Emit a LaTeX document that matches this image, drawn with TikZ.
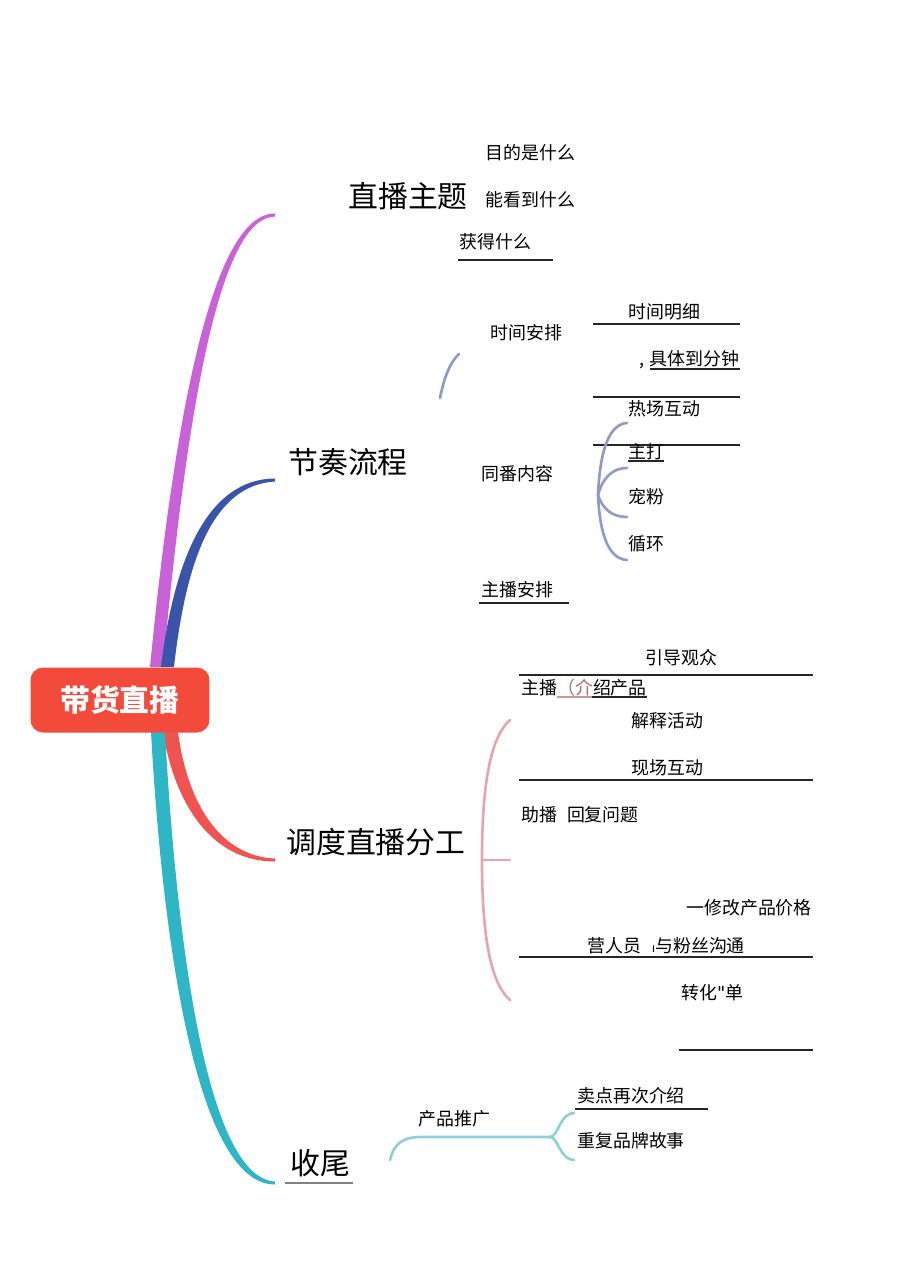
\documentclass[tikz,border=0pt]{standalone}
\usepackage{fontspec}
\setmainfont{Noto Sans CJK SC}
\newfontfamily\markfont{DejaVu Sans}
\definecolor{rootred}{HTML}{F24B3B}
\definecolor{bpurple}{HTML}{C862D6}
\definecolor{bblue}{HTML}{3A54A8}
\definecolor{bred}{HTML}{F05450}
\definecolor{bteal}{HTML}{2FB6C6}
\definecolor{sblue}{HTML}{8D9BCB}
\definecolor{spink}{HTML}{EAA4AC}
\definecolor{steal}{HTML}{8DD0DA}
\definecolor{jiered}{HTML}{B06A6A}
\tikzset{
  leaf/.style={anchor=west, inner sep=0pt, font=\fontsize{10.2pt}{12pt}\selectfont},
  topic/.style={anchor=west, inner sep=0pt, font=\fontsize{17pt}{20pt}\selectfont},
  rule/.style={line width=0.6pt, black!85},
  subline/.style={line width=1.5pt, line cap=round},
}
\begin{document}
\begin{tikzpicture}[x=0.02cm, y=-0.02cm]
	\useasboundingbox (0,0) rectangle (920,1276);
	% main branches
		\fill[bpurple] (150,667) .. controls (174,420) and (212,213) .. (275,213.5)
			-- (275,216.5) .. controls (218,217) and (186,420) .. (163,667) -- cycle;
		\fill[bblue] (161,667) .. controls (174,560) and (207,479) .. (275,478.5)
			-- (275,481.5) .. controls (213,485) and (186,560) .. (174,667) -- cycle;
		\fill[bred] (163,732) .. controls (175,805) and (212,861.5) .. (275,861.5)
			-- (275,858.5) .. controls (218,856) and (187,800) .. (178,732) -- cycle;
		\fill[bteal] (151,732) .. controls (163,950) and (198,1184.5) .. (275,1184.5)
			-- (275,1181.5) .. controls (208,1178) and (177,950) .. (165,732) -- cycle;
	% root
		\node[fill=rootred, rounded corners=0.25cm, minimum width=3.58cm, minimum height=1.3cm,
			text=white, font=\fontsize{17pt}{20pt}\selectfont\bfseries] (root) at (120,700) {带货直播};
	% topic 1
		\node[topic] (zhuti) at (348,196) {直播主题};
		\node[leaf] (mudi) at (485,153) {目的是什么};
		\node[leaf] (nengkan) at (485,200) {能看到什么};
		\node[leaf] (huode) at (459,242) {获得什么};
		\draw[rule] (458,260) -- (553,260);
	% topic 2
		\node[topic] (jiezou) at (288,462) {节奏流程};
		\coordinate (sj-a) at (440,398);
		\coordinate (sj-b) at (459,354);
		\draw[subline, sblue] (sj-a) .. controls (444,378) and (450,362) .. (sj-b);
		\node[leaf] (shijian) at (490,333) {时间安排};
		\node[leaf] (mingxi) at (628,312) {时间明细};
		\node[leaf] (fenzhong) at (639,360) {,\hspace{0.3em}具体到分钟};
		\draw[rule] (650,369) -- (740,369);
		\foreach \y in {324,397,445}
			\draw[rule] (593,\y) -- (740,\y);
		\node[leaf] (rechang) at (628,409) {热场互动};
		\node[leaf] (zhuda) at (628,452) {主打};
		\draw[rule] (628,461) -- (664,461);
		\node[leaf] (chongfen) at (628,497) {宠粉};
		\node[leaf] (xunhuan) at (628,544) {循环};
		\node[leaf] (tongfan) at (481,474) {同番内容};
		\coordinate (tf) at (598,495);
		\draw[subline, sblue] (tf) .. controls (600,448) and (610,424) .. (627,423);
		\draw[subline, sblue] (tf) .. controls (603,477) and (613,468) .. (627,468);
		\draw[subline, sblue] (tf) .. controls (603,510) and (613,517) .. (627,517);
		\draw[subline, sblue] (tf) .. controls (600,538) and (610,559) .. (627,560);
		\node[leaf] (zhubo) at (481,590) {主播安排};
		\draw[rule] (479,603) -- (569,603);
	% topic 3
		\node[topic] (diaodu) at (286,842) {调度直播分工};
		\coordinate (dd-top) at (510,720);
		\coordinate (dd-mid) at (482,860);
		\coordinate (dd-bot) at (510,1000);
		\draw[subline, spink] (dd-top) .. controls (487,740) and (482,800) .. (dd-mid)
			.. controls (482,920) and (487,980) .. (dd-bot);
		\draw[subline, spink] (dd-mid) -- (510,860);
		\node[leaf] (yindao) at (645,658) {引导观众};
		\node[leaf] (jieshao) at (521,688) {主播\textcolor{jiered}{（介}绍产品};
		\draw[rule, jiered!70] (557,697) -- (592,697);
		\draw[rule] (592,697) -- (647,697);
		\node[leaf] (jieshi) at (631,721) {解释活动};
		\node[leaf] (xianchang) at (631,768) {现场互动};
		\foreach \y in {675,780,957}
			\draw[rule] (519,\y) -- (813,\y);
		\node[leaf] (zhubo2) at (521,815) {助播\hspace{0.55em}回复问题};
		\node[leaf] (xiugai) at (686,908) {一修改产品价格};
		\node[leaf] (yingren) at (587,946) {营人员\hspace{0.6em}{\markfont\fontsize{7pt}{8pt}\selectfont ı}与粉丝沟通};
		\node[leaf] (zhuanhua) at (681,993) {转化{\markfont\addfontfeatures{Ligatures=TeXOff}"}单};
		\draw[rule] (679,1050) -- (813,1050);
	% topic 4
		\node[topic] (shouwei) at (290,1163) {收尾};
		\draw[rule, black!50] (285,1183) -- (353,1183);
		\node[leaf] (tuiguang) at (418,1119) {产品推广};
		\coordinate (tg-a) at (390,1160);
		\coordinate (tg-b) at (550,1137);
		\draw[subline, steal] (tg-a) .. controls (394,1143) and (404,1137) .. (420,1137) -- (tg-b);
		\draw[subline, steal] (tg-b) .. controls (558,1137) and (560,1113) .. (574,1113);
		\draw[subline, steal] (tg-b) .. controls (558,1137) and (560,1160) .. (574,1160);
		\node[leaf] (maidian) at (577,1096) {卖点再次介绍};
		\draw[rule] (575,1109) -- (708,1109);
		\node[leaf] (chongfu) at (577,1141) {重复品牌故事};
\end{tikzpicture}
\end{document}
